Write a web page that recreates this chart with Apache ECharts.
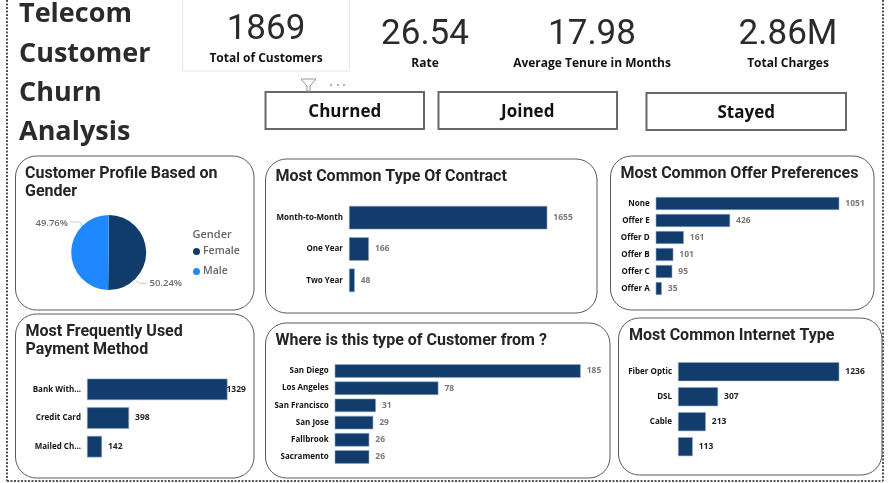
<!DOCTYPE html>
<html><head><meta charset="utf-8">
<style>html,body{margin:0;padding:0;background:#fff}#c{width:895px;height:483px}</style>
<script src="https://cdn.jsdelivr.net/npm/echarts@6/dist/echarts.min.js"></script>
</head><body><div id="c"></div>
<script>
const reportTitle = ['Telecom','Customer','Churn','Analysis'];
const kpiValues = ['1869','26.54','17.98','2.86M'];
const kpiLabels = ['Total of Customers','Rate','Average Tenure in Months','Total Charges'];
const buttonLabels = ['Churned','Joined','Stayed'];
const genderNames = ['Female','Male'];
const genderValues = [939,930];
const contractCats = ['Month-to-Month','One Year','Two Year'];
const contractVals = [1655,166,48];
const offerCats = ['None','Offer E','Offer D','Offer B','Offer C','Offer A'];
const offerVals = [1051,426,161,101,95,35];
const paymentCats = ['Bank With...','Credit Card','Mailed Ch...'];
const paymentVals = [1329,398,142];
const cityCats = ['San Diego','Los Angeles','San Francisco','San Jose','Fallbrook','Sacramento'];
const cityVals = [185,78,31,29,26,26];
const internetCats = ['Fiber Optic','DSL','Cable',''];
const internetVals = [1236,307,213,113];

const DARK='#123c6b', BLUE='#2088ff', GREY='#7d7873', INK='#2b2b2b';
const HEAD='Roboto', BODY='"Open Sans"';

const bars=[
 {cats:contractCats,vals:contractVals,left:349,top:202,w:198.3,h:94,bar:23.5,lab:GREY},
 {cats:offerCats,vals:offerVals,left:655.7,top:195,w:183.6,h:102,bar:13,lab:GREY},
 {cats:paymentCats,vals:paymentVals,left:87,top:375,w:140.5,h:86,bar:21.5,lab:'#222',tight:0},
 {cats:cityCats,vals:cityVals,left:334.7,top:362.4,w:246,h:103.2,bar:13.5,lab:GREY},
 {cats:internetCats,vals:internetVals,left:678,top:359.2,w:161.3,h:100,bar:19,lab:'#222'}
];
const grid=[],xAxis=[],yAxis=[],series=[];
bars.forEach((b,i)=>{
 grid.push({left:b.left,top:b.top,width:b.w,height:b.h,containLabel:false});
 xAxis.push({type:'value',gridIndex:i,min:0,max:b.vals[0],show:false});
 yAxis.push({type:'category',gridIndex:i,inverse:true,data:b.cats,
  axisLine:{show:false},axisTick:{show:false},
  axisLabel:{interval:0,margin:6,fontFamily:BODY,fontWeight:700,fontSize:8,color:'#111'}});
 series.push({type:'bar',xAxisIndex:i,yAxisIndex:i,barWidth:b.bar,
  itemStyle:{color:DARK,borderColor:'#8ea6c2',borderWidth:0.6},
  data:b.vals.map((v,k)=>(b.tight===0&&k===0)?{value:v,label:{distance:-1}}:v),
  label:{show:true,position:'right',distance:6,fontFamily:BODY,fontWeight:700,fontSize:8.5,color:b.lab},
  silent:true,animation:false});
});
series.push({type:'pie',center:[108.7,252.5],radius:[0,37.5],startAngle:90,clockwise:true,
  percentPrecision:2,animation:false,silent:true,
  data:genderNames.map((n,i)=>({name:n,value:genderValues[i],itemStyle:{color:i?BLUE:'#103c6c'}})),
  label:{formatter:'{d}%',overflow:'none',fontFamily:BODY,fontWeight:600,fontSize:9.5,color:'#6f6a66'},
  labelLine:{show:false},
  labelLayout:p=>p.dataIndex===0?{x:149.5,y:283.5,align:'left',verticalAlign:'middle'}:{x:68,y:223.5,align:'right',verticalAlign:'middle'}
});

const panels=[[15.5,156,238.5,154],[15.5,314,238.5,164],[265.5,159,331.5,154],[265.5,323,344.5,155],[610.5,156,263.5,154],[618.5,318,263.5,157]];
const g=[];
panels.forEach(p=>g.push({type:'rect',shape:{x:p[0],y:p[1],width:p[2],height:p[3],r:21},style:{fill:'transparent',stroke:'#5a5a5a',lineWidth:1},silent:true}));
[[7,0,7,481],[883,0,883,481],[7,481,883,481]].forEach(l=>g.push({type:'line',shape:{x1:l[0],y1:l[1],x2:l[2],y2:l[3]},style:{stroke:'#555',lineWidth:2,lineDash:[2,1.5]},silent:true}));
g.push({type:'rect',shape:{x:182.5,y:-2,width:167,height:73},style:{fill:'transparent',stroke:'#e6e6e6',lineWidth:1},silent:true});
[[265.5,92,158.5,37],[438.5,92,178.5,37],[646.5,93,199.5,37]].forEach((r,i)=>{
 g.push({type:'rect',shape:{x:r[0],y:r[1],width:r[2],height:r[3]},style:{fill:'#fff',stroke:'#6b6763',lineWidth:2},silent:true});
 g.push({type:'text',silent:true,style:{text:buttonLabels[i],x:r[0]+r[2]/2,y:r[1]+r[3]/2+1.5,align:'center',verticalAlign:'middle',font:'700 17px '+BODY,fill:'#111'}});
});
function txt(t,x,y,font,fill,align){g.push({type:'text',silent:true,style:{text:t,x,y,align:align||'left',verticalAlign:'middle',font,fill:fill||'#222'}});}
const titleY=[14,54,93,132];
reportTitle.forEach((t,i)=>txt(t,19,titleY[i],'700 27px '+BODY,INK));
[[266,30,59],[425,35,64],[592,35,64],[788,35,64]].forEach((k,i)=>{
 txt(kpiValues[i],k[0],k[1],'400 35px '+HEAD,INK,'center');
 txt(kpiLabels[i],k[0],k[2],'700 12px '+BODY,'#111','center');
});
const HF='700 16px '+HEAD, TC='#252525';
txt('Customer Profile Based on',25,174,HF,TC);
txt('Gender',25,192,HF,TC);
txt('Most Frequently Used',25.5,331.5,HF,TC);
txt('Payment Method',25.5,349.5,HF,TC);
txt('Most Common Type Of Contract',275.5,177,HF,TC);
txt('Where is this type of Customer from ?',275.5,341,HF,TC);
txt('Most Common Offer Preferences',620.5,174,HF,TC);
txt('Most Common Internet Type',629,336,HF,TC);
txt('Gender',192.5,235,'600 11px '+BODY,'#6a6560');
[[[136,281],[141,283.5],[147,283.5]],[[70,222],[80,222],[84,228]]].forEach(points=>g.push({type:'polyline',silent:true,shape:{points},style:{fill:'none',stroke:'#d0d0d0',lineWidth:1}}));
g.push({type:'polygon',silent:true,shape:{points:[[301,79],[316,79],[310,86],[310,91],[307,91],[307,86]]},style:{fill:'#fff',stroke:'#9a9a9a',lineWidth:1}});
[331,338,344].forEach(x=>g.push({type:'circle',silent:true,shape:{cx:x,cy:85,r:0.9},style:{fill:'#8a8a8a'}}));

echarts.init(document.getElementById('c'),null,{renderer:'canvas'}).setOption({
 animation:false,backgroundColor:'#fff',grid,xAxis,yAxis,series,graphic:g,
 legend:{show:true,orient:'vertical',left:188,top:241,itemWidth:7,itemHeight:7,itemGap:9,icon:'circle',
  data:genderNames,textStyle:{fontFamily:BODY,fontWeight:600,fontSize:10.5,color:'#6a6560',padding:[0,0,0,-2]},selectedMode:false}
});
</script></body></html>
